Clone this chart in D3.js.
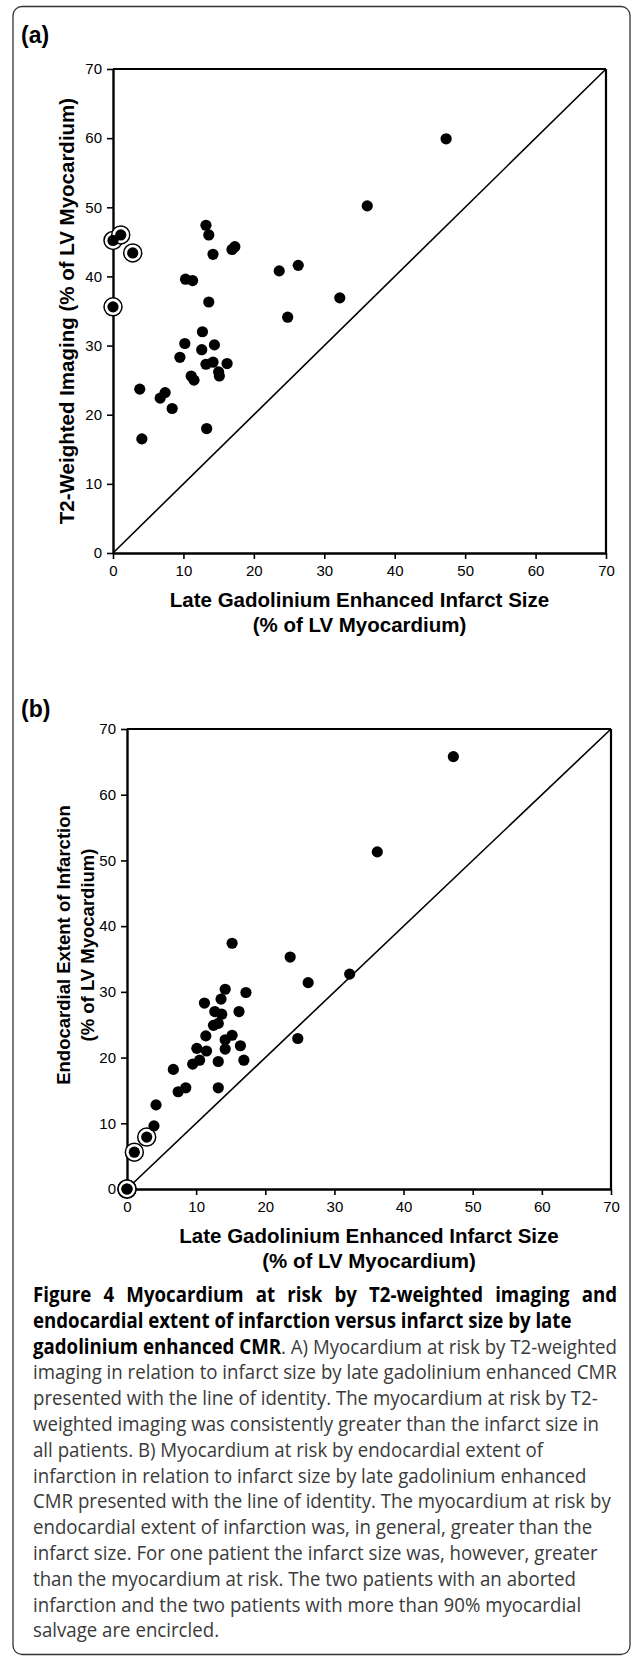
<!DOCTYPE html>
<html><head><meta charset="utf-8">
<script src="https://cdn.jsdelivr.net/npm/d3@7"></script>
<style>body{margin:0;background:#fff} svg{display:block}</style>
</head><body>
<svg id="c" width="633" height="1657"></svg>
<script>
const ticks = [0,10,20,30,40,50,60,70];

// Panel (a): infarct size (x) vs T2-weighted myocardium at risk (y)
const aInfarct = [0,1.1,2.8,0, 13.2,13.6,14.2,16.9,17.3,10.3,11.3,23.6,26.3,13.6,32.2,24.8,36.1,47.3,12.7,10.2,14.4,12.6,9.5,13.2,14.2,16.2,15.0,15.1,11.1,11.5,3.8,6.7,7.4,8.4,4.1,13.3];
const aT2      = [45.2,46.0,43.4,35.6, 47.4,46.0,43.2,43.9,44.3,39.6,39.4,40.8,41.6,36.3,36.9,34.1,50.2,59.9,32.0,30.3,30.1,29.4,28.3,27.3,27.6,27.4,26.2,25.6,25.6,25.0,23.7,22.4,23.2,20.9,16.5,18.0];
const aCircled = [1,1,1,1, 0,0,0,0,0,0,0,0,0,0,0,0,0,0,0,0,0,0,0,0,0,0,0,0,0,0,0,0,0,0,0,0];

// Panel (b): infarct size (x) vs endocardial extent of infarction (y)
const bInfarct = [0,0,1.06,2.85, 3.9,4.2,6.7,7.4,8.5,9.5,10.5,10.1,11.5,11.4,11.2,13.2,13.2,13.6,14.2,12.7,13.7,13.2,12.5,14.2,14.2,15.2,16.2,16.4,16.9,17.2,23.6,24.7,26.2,32.2,15.2,36.2,47.2];
const bEndo    = [0,0,5.6,7.9, 9.6,12.8,18.2,14.8,15.4,19.0,19.6,21.4,21.0,23.3,28.3,19.4,15.4,28.9,30.4,27.0,26.6,25.2,24.9,22.7,21.3,23.4,27.0,21.8,19.6,29.9,35.3,22.9,31.4,32.7,37.4,51.3,65.8];
const bCircled = [1,1,1,1, 0,0,0,0,0,0,0,0,0,0,0,0,0,0,0,0,0,0,0,0,0,0,0,0,0,0,0,0,0,0,0,0,0];

const svg = d3.select("#c");
const AX = "'Liberation Sans', Arial, sans-serif";

svg.append("rect").attr("x",13).attr("y",6.5).attr("width",617).attr("height",1648)
  .attr("rx",9).attr("fill","none").attr("stroke","#333").attr("stroke-width",1.3);

function panel(o){
  const g = svg.append("g");
  const x = d3.scaleLinear().domain([0,70]).range([o.x0,o.x1]);
  const y = d3.scaleLinear().domain([0,70]).range([o.y0,o.y1]);
  g.append("line").attr("x1",o.x0).attr("x2",o.x1).attr("y1",o.y1).attr("y2",o.y1).attr("stroke","#000").attr("stroke-width",2.2);
  g.append("line").attr("x1",o.x1).attr("x2",o.x1).attr("y1",o.y1).attr("y2",o.y0).attr("stroke","#000").attr("stroke-width",2.2);
  g.append("line").attr("x1",x(0)).attr("y1",y(0)).attr("x2",x(70)).attr("y2",y(70)).attr("stroke","#000").attr("stroke-width",1.6);
  const ax = g.append("g").attr("transform",`translate(0,${o.y0})`)
    .call(d3.axisBottom(x).tickValues(ticks).tickSize(6).tickSizeOuter(0).tickPadding(6));
  const ay = g.append("g").attr("transform",`translate(${o.x0},0)`)
    .call(d3.axisLeft(y).tickValues(ticks).tickSize(6).tickSizeOuter(0).tickPadding(5));
  [ax,ay].forEach(a=>{
    a.select(".domain").attr("stroke","#000").attr("stroke-width",2.4);
    a.selectAll(".tick line").attr("stroke","#000").attr("stroke-width",1.6);
    a.selectAll(".tick text").attr("font-family",AX).attr("font-size",15).attr("fill","#000");
  });
  const pts = o.xs.map((v,i)=>({x:v,y:o.ys[i],c:o.circ[i]}));
  g.selectAll(".ring").data(pts.filter(d=>d.c)).join("circle")
    .attr("cx",d=>x(d.x)).attr("cy",d=>y(d.y)).attr("r",9)
    .attr("fill","#fff").attr("stroke","#000").attr("stroke-width",1.5);
  g.selectAll(".dot").data(pts).join("circle")
    .attr("cx",d=>x(d.x)).attr("cy",d=>y(d.y)).attr("r",5.6).attr("fill","#000");
  g.append("text").attr("x",o.lx).attr("y",o.ly).text(o.label)
    .attr("font-family",AX).attr("font-weight","bold").attr("font-size",23);
  const cx = (o.x0+o.x1)/2;
  o.xt.forEach((t,i)=>g.append("text").attr("x",cx).attr("y",o.y0+54+i*24.5).attr("text-anchor","middle")
    .attr("font-family",AX).attr("font-weight","bold").attr("font-size",20.5).text(t));
  const cy = o.ytc;
  o.yt.forEach((t,i)=>g.append("text").attr("transform",`translate(${o.ytx[i]},${cy}) rotate(-90)`)
    .attr("text-anchor","middle").attr("font-family",AX).attr("font-weight","bold").attr("font-size",o.ytf).text(t));
}

panel({x0:113,x1:606,y0:553,y1:69,xs:aInfarct,ys:aT2,circ:aCircled,label:"(a)",lx:21,ly:43,
  xt:["Late Gadolinium Enhanced Infarct Size","(% of LV Myocardium)"],
  yt:["T2-Weighted Imaging (% of LV Myocardium)"], ytx:[74], ytc:311, ytf:20.5});
panel({x0:127,x1:611,y0:1189,y1:729,xs:bInfarct,ys:bEndo,circ:bCircled,label:"(b)",lx:21,ly:717,
  xt:["Late Gadolinium Enhanced Infarct Size","(% of LV Myocardium)"],
  yt:["Endocardial Extent of Infarction","(% of LV Myocardium)"], ytx:[70,94], ytc:945, ytf:18.5});

const capLines = [
  [["b","Figure 4 Myocardium at risk by T2-weighted imaging and"]],
  [["b","endocardial extent of infarction versus infarct size by late"]],
  [["b","gadolinium enhanced CMR"],["n",". A) Myocardium at risk by T2-weighted"]],
  [["n","imaging in relation to infarct size by late gadolinium enhanced CMR"]],
  [["n","presented with the line of identity. The myocardium at risk by T2-"]],
  [["n","weighted imaging was consistently greater than the infarct size in"]],
  [["n","all patients. B) Myocardium at risk by endocardial extent of"]],
  [["n","infarction in relation to infarct size by late gadolinium enhanced"]],
  [["n","CMR presented with the line of identity. The myocardium at risk by"]],
  [["n","endocardial extent of infarction was, in general, greater than the"]],
  [["n","infarct size. For one patient the infarct size was, however, greater"]],
  [["n","than the myocardium at risk. The two patients with an aborted"]],
  [["n","infarction and the two patients with more than 90% myocardial"]],
  [["n","salvage are encircled."]]
];
const capX = 33, capW = 584, capY0 = 1302, capLH = 25.8;
const cap = svg.append("g");
const nodes = capLines.map((segs,i)=>{
  const t = cap.append("text").attr("x",0).attr("y",0)
    .attr("font-family","'Open Sans', sans-serif").attr("font-size",20.5);
  segs.forEach(s=>t.append("tspan").text(s[1])
    .attr("font-weight",s[0]==="b"?"bold":"normal").attr("fill",s[0]==="b"?"#000":"#3a3a3a"));
  return t;
});
const refW = nodes[3].node().getComputedTextLength();
const sx = capW/refW;
nodes.forEach((t,i)=>{
  t.attr("transform",`translate(${capX},${capY0+i*capLH}) scale(${sx},1)`);
});
const w0 = nodes[0].node().getComputedTextLength();
const nSp = capLines[0][0][1].split(" ").length-1;
nodes[0].attr("word-spacing",(capW/sx - w0)/nSp);
</script>
</body></html>
